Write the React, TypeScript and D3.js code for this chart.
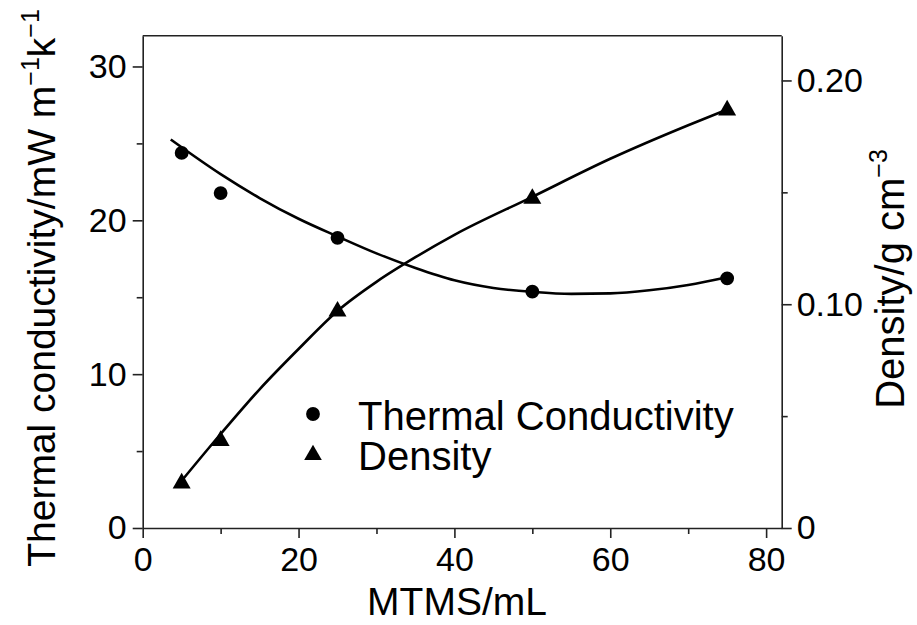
import React, { useEffect, useRef } from "react";
import * as d3 from "d3";

// ---- Data ----
const mtms = [5, 10, 25, 50, 75];
const thermalConductivity = [24.38, 21.77, 18.86, 15.36, 16.23];
const density = [0.02, 0.039, 0.0968, 0.1472, 0.1867];

// Fitted curves as drawn in the reference
const tcFitX = [3.6, 10, 15, 20, 25, 30, 35, 40, 45, 50, 55, 60, 65, 70, 75];
const tcFitY = [25.25, 23.0, 21.45, 20.1, 18.95, 17.85, 16.9, 16.1, 15.6, 15.35, 15.22, 15.25, 15.45, 15.8, 16.3];
const densFitX = [4.5, 10, 15, 20, 25, 30, 35, 40, 50, 60, 70, 75];
const densFitY = [0.019, 0.042, 0.062, 0.08, 0.097, 0.11, 0.121, 0.131, 0.148, 0.165, 0.18, 0.187];

const xMajorTicks = [0, 20, 40, 60, 80];
const xMinorTicks = [10, 30, 50, 70];
const leftMajorTicks = [0, 10, 20, 30];
const leftMinorTicks = [5, 15, 25];
const rightMajorTicks = [0, 0.1, 0.2];
const rightTickLabels = ["0", "0.10", "0.20"];
const rightMinorTicks = [0.05, 0.15];

const W = 917;
const H = 625;
const FONT = "'Liberation Sans', Arial, Helvetica, sans-serif";

export default function App() {
  const ref = useRef<SVGSVGElement | null>(null);

  const left = 142.7, right = 781.7, top = 35.7, bottom = 528;
  const x = d3.scaleLinear().domain([0, 82]).range([left, right]);
  const yL = d3.scaleLinear().domain([0, 32]).range([bottom, top]);
  const yR = d3.scaleLinear().domain([0, 0.22]).range([bottom, top]);

  useEffect(() => {
    const svg = d3.select(ref.current);
    svg.selectAll("*").remove();
    const g = svg.append("g");

    const styleAxis = (sel: any) => {
      sel.selectAll("path.domain").attr("stroke", "#222").attr("stroke-width", 1.6);
      sel.selectAll(".tick line").attr("stroke", "#222").attr("stroke-width", 1.6);
      sel.selectAll("text").attr("font-family", FONT).attr("font-size", 34).attr("fill", "#000");
    };

    // frame top line
    g.append("line").attr("x1", left).attr("x2", right).attr("y1", top).attr("y2", top)
      .attr("stroke", "#222").attr("stroke-width", 1.6);

    // Bottom axis
    const xb = g.append("g").attr("transform", `translate(0,${bottom})`)
      .call(d3.axisBottom(x).tickValues(xMajorTicks).tickSize(10).tickSizeOuter(0).tickPadding(9).tickFormat(d3.format("d")));
    styleAxis(xb);
    const xm = g.append("g").attr("transform", `translate(0,${bottom})`)
      .call(d3.axisBottom(x).tickValues(xMinorTicks).tickSize(6).tickSizeOuter(0).tickFormat(() => ""));
    styleAxis(xm);
    xm.select("path.domain").remove();

    // Left axis
    const yl = g.append("g").attr("transform", `translate(${left},0)`)
      .call(d3.axisLeft(yL).tickValues(leftMajorTicks).tickSize(10).tickSizeOuter(0).tickPadding(6).tickFormat(d3.format("d")));
    styleAxis(yl);
    const ylm = g.append("g").attr("transform", `translate(${left},0)`)
      .call(d3.axisLeft(yL).tickValues(leftMinorTicks).tickSize(6).tickSizeOuter(0).tickFormat(() => ""));
    styleAxis(ylm);
    ylm.select("path.domain").remove();

    // Right axis
    const yr = g.append("g").attr("transform", `translate(${right},0)`)
      .call(d3.axisRight(yR).tickValues(rightMajorTicks).tickSize(10).tickSizeOuter(0).tickPadding(5)
        .tickFormat((d: any, i: number) => rightTickLabels[i]));
    styleAxis(yr);
    const yrm = g.append("g").attr("transform", `translate(${right},0)`)
      .call(d3.axisRight(yR).tickValues(rightMinorTicks).tickSize(6).tickSizeOuter(0).tickFormat(() => ""));
    styleAxis(yrm);
    yrm.select("path.domain").remove();

    // Fit curves
    const lineTC = d3.line<number>().x((_, i) => x(tcFitX[i])).y((d) => yL(d)).curve(d3.curveMonotoneX);
    const lineD = d3.line<number>().x((_, i) => x(densFitX[i])).y((d) => yR(d)).curve(d3.curveMonotoneX);
    g.append("path").attr("d", lineTC(tcFitY) as string).attr("fill", "none").attr("stroke", "#000").attr("stroke-width", 2.6);
    g.append("path").attr("d", lineD(densFitY) as string).attr("fill", "none").attr("stroke", "#000").attr("stroke-width", 2.6);

    // Markers
    const circ = d3.symbol().type(d3.symbolCircle).size(150);
    const tri = d3.symbol().type(d3.symbolTriangle).size(140);
    g.selectAll("path.tc").data(mtms).enter().append("path").attr("class", "tc")
      .attr("d", circ() as string)
      .attr("transform", (d, i) => `translate(${x(d)},${yL(thermalConductivity[i])})`)
      .attr("fill", "#000");
    g.selectAll("path.den").data(mtms).enter().append("path").attr("class", "den")
      .attr("d", tri() as string)
      .attr("transform", (d, i) => `translate(${x(d)},${yR(density[i])})`)
      .attr("fill", "#000");

    // Legend
    const lg = g.append("g");
    lg.append("path").attr("d", d3.symbol().type(d3.symbolCircle).size(150)() as string)
      .attr("transform", "translate(313,414)").attr("fill", "#000");
    lg.append("path").attr("d", d3.symbol().type(d3.symbolTriangle).size(135)() as string)
      .attr("transform", "translate(313,455)").attr("fill", "#000");
    lg.append("text").attr("x", 358).attr("y", 430).attr("font-family", FONT).attr("font-size", 40)
      .text("Thermal Conductivity");
    lg.append("text").attr("x", 358).attr("y", 470).attr("font-family", FONT).attr("font-size", 40)
      .text("Density");

    // X title
    g.append("text").attr("x", 457).attr("y", 615).attr("text-anchor", "middle")
      .attr("font-family", FONT).attr("font-size", 39).text("MTMS/mL");

    // Left title
    const lt = g.append("text").attr("transform", "translate(55,288) rotate(-90)")
      .attr("text-anchor", "middle").attr("font-family", FONT).attr("font-size", 39);
    lt.append("tspan").text("Thermal conductivity/mW m");
    lt.append("tspan").attr("font-size", 25).attr("dy", -16).text("\u22121");
    lt.append("tspan").attr("dy", 16).text("k");
    lt.append("tspan").attr("font-size", 25).attr("dy", -16).text("\u22121");

    // Right title
    const rt = g.append("text").attr("transform", "translate(904,279) rotate(-90)")
      .attr("text-anchor", "middle").attr("font-family", FONT).attr("font-size", 40);
    rt.append("tspan").text("Density/g cm");
    rt.append("tspan").attr("font-size", 25).attr("dy", -17).text("\u22123");
  }, []);

  return (
    <svg
      ref={ref}
      width={W}
      height={H}
      style={{ position: "absolute", left: 0, top: 0, background: "#fff" }}
    />
  );
}
